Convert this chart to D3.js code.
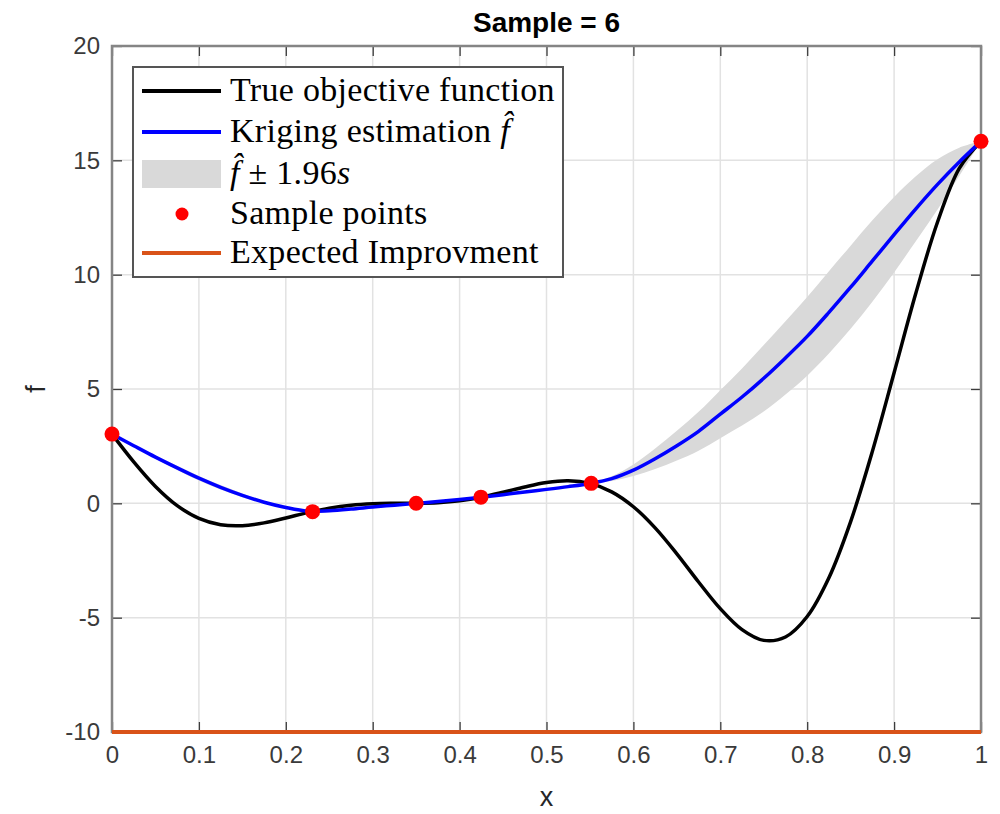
<!DOCTYPE html>
<html>
<head>
<meta charset="utf-8">
<script src="https://cdn.jsdelivr.net/npm/d3@7"></script>
<style>
  html, body { margin: 0; padding: 0; background: #fff; }
  svg { display: block; }
</style>
</head>
<body>
<svg id="chart" width="1000" height="814"></svg>
<script>
// ---- data ----
const xGrid = [0, 0.025, 0.05, 0.075, 0.1, 0.125, 0.15, 0.175, 0.2, 0.225, 0.25, 0.275, 0.3, 0.325, 0.35, 0.375, 0.4, 0.425, 0.45, 0.475, 0.5, 0.525, 0.55, 0.575, 0.6, 0.625, 0.65, 0.675, 0.7, 0.725, 0.75, 0.775, 0.8, 0.825, 0.85, 0.875, 0.9, 0.925, 0.95, 0.975, 1.0];
const trueValues = [3.027, 1.813, 0.739, -0.100, -0.657, -0.935, -0.978, -0.854, -0.640, -0.407, -0.210, -0.079, -0.016, 0.000, 0.002, 0.030, 0.115, 0.270, 0.483, 0.717, 0.909, 0.986, 0.871, 0.503, -0.149, -1.074, -2.209, -3.439, -4.606, -5.522, -5.993, -5.844, -4.949, -3.254, -0.799, 2.272, 5.712, 9.187, 12.303, 14.647, 15.830];
const krigMean = [3.027, 2.52, 2.02, 1.55, 1.10, 0.70, 0.35, 0.05, -0.18, -0.34, -0.32, -0.25, -0.16, -0.08, 0.00, 0.08, 0.17, 0.27, 0.38, 0.50, 0.61, 0.73, 0.87, 1.08, 1.45, 1.95, 2.52, 3.15, 3.90, 4.65, 5.47, 6.36, 7.30, 8.35, 9.45, 10.60, 11.75, 12.88, 13.95, 14.93, 15.83];
const krigHalfBand = [0, 0.04, 0.07, 0.09, 0.10, 0.10, 0.08, 0.05, 0.02, 0.00, 0.01, 0.01, 0.01, 0.00, 0.00, 0.00, 0.00, 0.00, 0.00, 0.00, 0.00, 0.00, 0.00, 0.10, 0.25, 0.45, 0.65, 0.85, 1.05, 1.25, 1.45, 1.60, 1.72, 1.80, 1.82, 1.78, 1.65, 1.42, 1.10, 0.62, 0];
const sampleX = [0, 0.2308, 0.35, 0.4245, 0.5514, 1];
const sampleY = [3.027, -0.363, 0.002, 0.270, 0.875, 15.830];
const eiX = [0, 0.25, 0.5, 0.75, 1];
const eiY = [-10, -10, -10, -10, -10];
const xTicks = [0, 0.1, 0.2, 0.3, 0.4, 0.5, 0.6, 0.7, 0.8, 0.9, 1];
const yTicks = [-10, -5, 0, 5, 10, 15, 20];
const titleText = "Sample = 6";
const xLabel = "x";
const yLabel = "f";

// ---- layout ----
const L = 112, T = 46, R = 981, B = 732;
const svg = d3.select("#chart");
const xs = d3.scaleLinear().domain([0, 1]).range([L, R]);
const ys = d3.scaleLinear().domain([-10, 20]).range([B, T]);

const sansFont = "'Liberation Sans', Arial, Helvetica, sans-serif";
const serifFont = "'Liberation Serif', 'Times New Roman', serif";

// grid
const grid = svg.append("g");
grid.selectAll("line.gx").data(xTicks.slice(1, -1)).join("line")
  .attr("x1", d => xs(d)).attr("x2", d => xs(d)).attr("y1", T).attr("y2", B)
  .attr("stroke", "#e2e2e2").attr("stroke-width", 1.5);
grid.selectAll("line.gy").data(yTicks.slice(1, -1)).join("line")
  .attr("y1", d => ys(d)).attr("y2", d => ys(d)).attr("x1", L).attr("x2", R)
  .attr("stroke", "#e2e2e2").attr("stroke-width", 1.5);

const pts = xGrid.map((v, i) => ({x: v, t: trueValues[i], m: krigMean[i], h: krigHalfBand[i]}));

// band
svg.append("path").datum(pts)
  .attr("d", d3.area().x(d => xs(d.x)).y0(d => ys(d.m - d.h)).y1(d => ys(d.m + d.h)).curve(d3.curveCatmullRom))
  .attr("fill", "#d9d9d9").attr("stroke", "none");

// true objective
svg.append("path").datum(pts)
  .attr("d", d3.line().x(d => xs(d.x)).y(d => ys(d.t)).curve(d3.curveCatmullRom))
  .attr("fill", "none").attr("stroke", "#000").attr("stroke-width", 3.5);

// kriging
svg.append("path").datum(pts)
  .attr("d", d3.line().x(d => xs(d.x)).y(d => ys(d.m)).curve(d3.curveCatmullRom))
  .attr("fill", "none").attr("stroke", "#0000ff").attr("stroke-width", 3.5);

// axes box + ticks
const fmt = d => String(d);
const axG = svg.append("g");
const axBottom = d3.axisBottom(xs).tickValues(xTicks).tickSizeInner(-10).tickSizeOuter(0).tickPadding(14).tickFormat(fmt);
const axTop = d3.axisTop(xs).tickValues(xTicks).tickSizeInner(-10).tickSizeOuter(0).tickFormat("");
const axLeft = d3.axisLeft(ys).tickValues(yTicks).tickSizeInner(-10).tickSizeOuter(0).tickPadding(12).tickFormat(fmt);
const axRight = d3.axisRight(ys).tickValues(yTicks).tickSizeInner(-10).tickSizeOuter(0).tickFormat("");

function styleAxis(g) {
  g.select(".domain").remove();
  g.selectAll(".tick line").attr("stroke", "#3c3c3c").attr("stroke-width", 1.3);
  g.selectAll(".tick text").attr("fill", "#3a3a3a").style("font-family", sansFont).style("font-size", "24px");
}
axG.append("g").attr("transform", `translate(0,${B})`).call(axBottom).call(styleAxis);
axG.append("g").attr("transform", `translate(0,${T})`).call(axTop).call(styleAxis);
axG.append("g").attr("transform", `translate(${L},0)`).call(axLeft).call(styleAxis);
axG.append("g").attr("transform", `translate(${R},0)`).call(axRight).call(styleAxis);

svg.append("rect").attr("x", L).attr("y", T).attr("width", R - L).attr("height", B - T)
  .attr("fill", "none").attr("stroke", "#858585").attr("stroke-width", 2.5);

// expected improvement
svg.append("path").datum(eiX.map((v, i) => [v, eiY[i]]))
  .attr("d", d3.line().x(d => xs(d[0])).y(d => ys(d[1])))
  .attr("fill", "none").attr("stroke", "#d95319").attr("stroke-width", 4);

// samples
svg.selectAll("circle.s").data(sampleX.map((v, i) => [v, sampleY[i]])).join("circle")
  .attr("cx", d => xs(d[0])).attr("cy", d => ys(d[1])).attr("r", 7.5).attr("fill", "#ff0000");

// title and labels
svg.append("text").attr("x", (L + R) / 2).attr("y", 32).attr("text-anchor", "middle")
  .style("font-family", sansFont).style("font-weight", "bold").style("font-size", "28px")
  .attr("fill", "#000").text(titleText);
svg.append("text").attr("x", (L + R) / 2).attr("y", 806).attr("text-anchor", "middle")
  .style("font-family", sansFont).style("font-size", "27px").attr("fill", "#262626").text(xLabel);
svg.append("text").attr("transform", `translate(45,${(T + B) / 2}) rotate(-90)`).attr("text-anchor", "middle")
  .style("font-family", sansFont).style("font-size", "27px").attr("fill", "#262626").text(yLabel);

// legend
const lg = svg.append("g");
lg.append("rect").attr("x", 133).attr("y", 67).attr("width", 430).attr("height", 210)
  .attr("fill", "#fff").attr("stroke", "#555").attr("stroke-width", 2);
const rows = [91, 132, 174, 214, 253];
const lx1 = 142, lx2 = 221, tx = 230;
lg.append("line").attr("x1", lx1).attr("x2", lx2).attr("y1", rows[0]).attr("y2", rows[0]).attr("stroke", "#000").attr("stroke-width", 4);
lg.append("line").attr("x1", lx1).attr("x2", lx2).attr("y1", rows[1]).attr("y2", rows[1]).attr("stroke", "#0000ff").attr("stroke-width", 4);
lg.append("rect").attr("x", lx1).attr("y", rows[2] - 14).attr("width", lx2 - lx1).attr("height", 28).attr("fill", "#d9d9d9");
lg.append("circle").attr("cx", 182).attr("cy", rows[3]).attr("r", 6.5).attr("fill", "#ff0000");
lg.append("line").attr("x1", lx1).attr("x2", lx2).attr("y1", rows[4]).attr("y2", rows[4]).attr("stroke", "#d95319").attr("stroke-width", 4);

function legText(row) {
  return lg.append("text").attr("x", tx).attr("y", rows[row] + 10)
    .style("font-family", serifFont).style("font-size", "34px").style("letter-spacing", "0.3px").attr("fill", "#000");
}
legText(0).text("True objective function");
const t1 = legText(1);
t1.append("tspan").text("Kriging estimation ");
t1.append("tspan").style("font-style", "italic").text("f\u0302");
const t2 = legText(2);
t2.append("tspan").style("font-style", "italic").text("f\u0302");
t2.append("tspan").text(" \u00B1 1.96");
t2.append("tspan").style("font-style", "italic").text("s");
legText(3).text("Sample points");
legText(4).text("Expected Improvment");
</script>
</body>
</html>
